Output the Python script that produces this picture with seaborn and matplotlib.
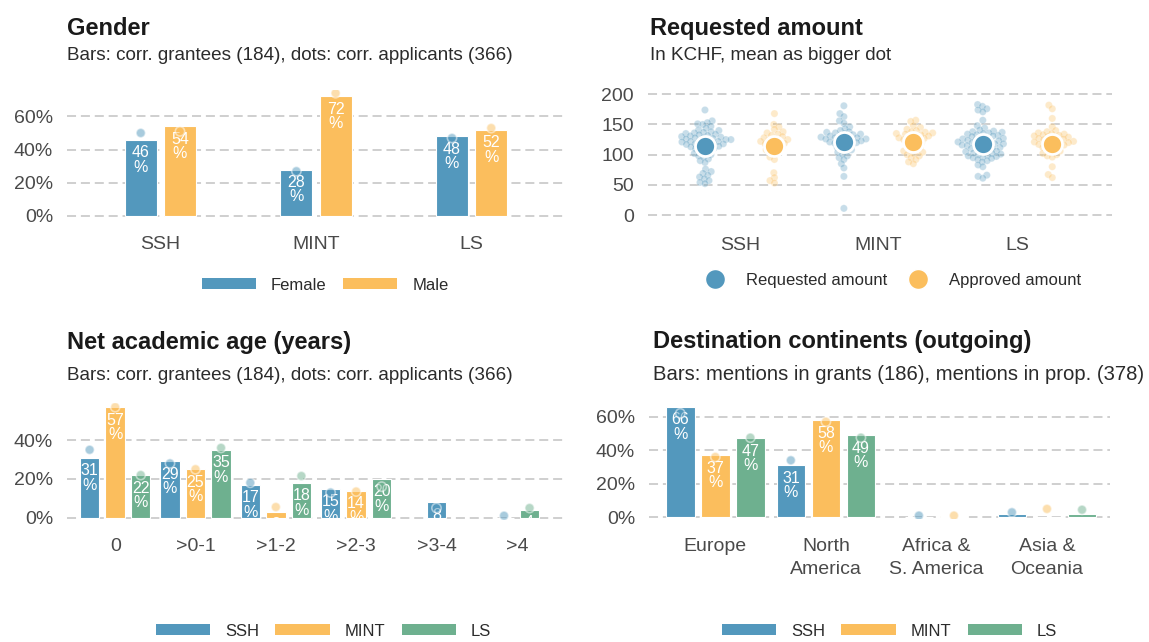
import numpy as np
import pandas as pd
import matplotlib
matplotlib.use("Agg")
import matplotlib.pyplot as plt
import seaborn as sns
from matplotlib.patches import Patch
from matplotlib.lines import Line2D

# ---------------- data ----------------
gender_fields = ["SSH", "MINT", "LS"]
gender_series = ["Female", "Male"]
female_grantees = [46, 28, 48]
male_grantees = [54, 72, 52]
female_applicants = [50, 27, 47]
male_applicants = [51, 74, 53]

amount_fields = ["SSH", "MINT", "LS"]
amount_types = ["Requested amount", "Approved amount"]
ssh_requested = [174, 156, 153, 151, 150, 147, 144, 141, 140, 138, 137, 136, 135, 134, 133,
                 132, 131, 130, 129, 128, 128, 127, 126, 125, 125, 124, 123, 122, 122, 121,
                 120, 119, 118, 118, 117, 116, 115, 114, 113, 112, 111, 110, 108, 106, 104,
                 102, 100, 98, 96, 93, 90, 87, 76, 72, 69, 66, 63, 60, 57, 54, 52]
ssh_approved = [168, 150, 146, 142, 138, 136, 134, 132, 130, 128, 127, 125, 124, 123, 122,
                120, 119, 118, 116, 114, 112, 110, 108, 106, 104, 100, 96, 92, 70, 62, 57, 53]
mint_requested = [181, 168, 163, 156, 152, 146, 143, 140, 138, 137, 136, 135, 134, 133, 132,
                  131, 130, 129, 128, 128, 127, 126, 126, 125, 124, 123, 122, 121, 120, 119,
                  118, 116, 114, 112, 110, 108, 106, 104, 101, 98, 95, 92, 85, 78, 64, 11]
mint_approved = [157, 155, 148, 145, 142, 140, 138, 137, 136, 135, 134, 133, 132, 131, 130,
                 128, 127, 126, 125, 124, 122, 120, 118, 116, 114, 112, 110, 108, 106, 104,
                 102, 100, 98, 95, 92, 88, 85]
ls_requested = [183, 180, 176, 174, 171, 157, 148, 144, 141, 139, 138, 137, 136, 135, 134,
                133, 132, 131, 130, 129, 128, 127, 126, 125, 124, 124, 123, 122, 121, 120,
                119, 118, 118, 117, 116, 115, 114, 113, 112, 111, 110, 109, 108, 106, 105,
                104, 103, 102, 101, 100, 99, 98, 97, 96, 95, 94, 92, 90, 88, 83, 80, 66, 64, 61]
ls_approved = [182, 176, 160, 146, 140, 138, 136, 135, 134, 133, 132, 131, 130, 129, 128,
               127, 126, 125, 124, 123, 122, 121, 120, 119, 118, 117, 116, 115, 114, 112,
               110, 108, 106, 104, 102, 100, 98, 96, 80, 67, 62]
requested_means = [114, 121, 117]
approved_means = [114, 121, 118]

age_groups = ["0", ">0-1", ">1-2", ">2-3", ">3-4", ">4"]
field_series = ["SSH", "MINT", "LS"]
age_ssh_grantees = [31, 29, 17, 15, 8, 0]
age_mint_grantees = [57, 25, 3, 14, None, None]
age_ls_grantees = [22, 35, 18, 20, None, 4]
age_ssh_applicants = [35, 28, 18, 13, 5, 1]
age_mint_applicants = [57, 25, 5.5, 13.5, None, None]
age_ls_applicants = [22, 36, 21.5, 16, None, 5]

continents = ["Europe", "North\nAmerica", "Africa &\nS. America", "Asia &\nOceania"]
dest_ssh_grants = [66, 31, 0, 2]
dest_mint_grants = [37, 58, 1, 0]
dest_ls_grants = [47, 49, None, 2]
dest_ssh_proposals = [62, 34, 1, 3]
dest_mint_proposals = [36, 57, 1, 5]
dest_ls_proposals = [47.5, 47.5, None, 4.5]

# ---------------- style ----------------
BLUE, ORANGE, GREEN = "#5398BD", "#FBBE5D", "#6EB08F"
TITLE_C, SUB_C, TICK_C = "#1a1a1a", "#2b2b2b", "#4a4a4a"

sns.set_theme(style="white")
plt.rcParams["font.family"] = ["Liberation Sans", "DejaVu Sans"]
plt.rcParams["lines.scale_dashes"] = False

W, H = 1149, 642
fig = plt.figure(figsize=(W / 100, H / 100), dpi=100)
fig.patch.set_facecolor("white")


def place(ax, left, right, zero_px, px_per_unit, ylim):
    bottom = zero_px + (0 - ylim[0]) * px_per_unit
    top = zero_px - ylim[1] * px_per_unit
    ax.set_position([left / W, 1 - bottom / H, (right - left) / W, (bottom - top) / H])
    ax.set_ylim(*ylim)


def style_axes(ax):
    for s in ax.spines.values():
        s.set_visible(False)
    ax.set_axisbelow(True)
    ax.yaxis.grid(True, color="#c2c2c2", linestyle=(0, (6.5, 3.5)), linewidth=1.1)
    ax.xaxis.grid(False)
    ax.tick_params(axis="both", length=0, labelcolor=TICK_C, labelsize=14)
    ax.tick_params(axis="y", pad=10)
    ax.tick_params(axis="x", pad=13.5)
    ax.set_xlabel("")
    ax.set_ylabel("")


def dodge_frame(cats, names, bar_lists, dot_lists, slot):
    rows = []
    for i in range(len(cats)):
        present = [k for k in range(len(names)) if bar_lists[k][i] is not None]
        n = len(present)
        for j, k in enumerate(present):
            d = dot_lists[k][i]
            rows.append(dict(pos=i + (j - (n - 1) / 2) * slot, series=names[k],
                             bar=bar_lists[k][i], dot=np.nan if d is None else d))
    return pd.DataFrame(rows)


def bar_panel(ax, cats, names, bar_lists, dot_lists, slot, width, colors):
    df = dodge_frame(cats, names, bar_lists, dot_lists, slot)
    pal = dict(zip(names, colors))
    sns.barplot(data=df, x="pos", y="bar", hue="series", hue_order=names, palette=pal,
                native_scale=True, dodge=False, width=width, errorbar=None, legend=False,
                orient="x", edgecolor="white", linewidth=0.8, saturation=1, ax=ax)
    sns.scatterplot(data=df.dropna(subset=["dot"]), x="pos", y="dot", hue="series",
                    hue_order=names, palette=pal, s=45, alpha=0.5, edgecolor="white",
                    linewidth=1.2, legend=False, zorder=4, ax=ax)
    for p in ax.patches:
        h = p.get_height()
        if h >= 3:
            label = f"{h:.0f}\n%" if h >= 6 else f"{h:.0f}"
            ax.annotate(label, (p.get_x() + p.get_width() / 2, h), xytext=(0, -4),
                        textcoords="offset points", ha="center", va="top", color="white",
                        fontsize=11.5, linespacing=0.95, clip_on=True, zorder=3)
    ax.set_xticks(range(len(cats)))
    ax.set_xticklabels(cats, linespacing=1.45)


def pct(ax, ticks):
    ax.set_yticks(ticks)
    ax.set_yticklabels([f"{t}%" for t in ticks])


def patch_legend(ax, names, colors, cx, cy):
    handles = [Patch(facecolor=c, edgecolor="none") for c in colors]
    ax.legend(handles, names, loc="center", bbox_to_anchor=(cx / W, 1 - cy / H),
              bbox_transform=fig.transFigure, ncol=len(names), frameon=False,
              handlelength=3.25, handleheight=0.6, handletextpad=0.9, columnspacing=1.0,
              fontsize=12, labelcolor=SUB_C)


def titles(x, title_base, sub_base, title, sub, sub_size=13.6):
    fig.text(x / W, 1 - title_base / H, title, fontsize=17, fontweight="bold",
             color=TITLE_C, va="baseline", ha="left")
    fig.text(x / W, 1 - sub_base / H, sub, fontsize=sub_size, color=SUB_C,
             va="baseline", ha="left")


# ---------------- panel 1: Gender ----------------
ax1 = fig.add_axes([0, 0, 1, 1])
bar_panel(ax1, gender_fields, gender_series, [female_grantees, male_grantees],
          [female_applicants, male_applicants], slot=0.252, width=0.813,
          colors=[BLUE, ORANGE])
style_axes(ax1)
pct(ax1, [0, 20, 40, 60])
ax1.set_xlim(-0.6, 2.6)
place(ax1, 67, 565, 216, 1.66, (-1, 76))
patch_legend(ax1, gender_series, [BLUE, ORANGE], 325, 285)
titles(67, 35, 60, "Gender", "Bars: corr. grantees (184), dots: corr. applicants (366)")

# ---------------- panel 2: Requested amount ----------------
ax2 = fig.add_axes([0, 0, 1, 1])
slots = [f"{f} {t}" for f in amount_fields for t in amount_types]
point_lists = [ssh_requested, ssh_approved, mint_requested, mint_approved,
               ls_requested, ls_approved]
pts = pd.DataFrame([dict(slot=s, type=s.split(" ", 1)[1], value=v)
                    for s, vals in zip(slots, point_lists) for v in vals])
means = pd.DataFrame([dict(slot=f"{f} {t}", type=t, value=m)
                      for f, rm, am in zip(amount_fields, requested_means, approved_means)
                      for t, m in zip(amount_types, [rm, am])])
amt_pal = dict(zip(amount_types, [BLUE, ORANGE]))
n0 = len(ax2.collections)
sns.swarmplot(data=pts, x="slot", y="value", hue="type", order=slots, hue_order=amount_types,
              palette=amt_pal, size=3.0, alpha=0.32, edgecolor="white", linewidth=0.5,
              legend=False, warn_thresh=1, ax=ax2)
swarm_cols = ax2.collections[n0:]
sns.stripplot(data=means, x="slot", y="value", hue="type", order=slots, hue_order=amount_types,
              palette=amt_pal, size=14.4, jitter=False, edgecolor="white", linewidth=2,
              legend=False, zorder=5, ax=ax2)
style_axes(ax2)
ax2.set_yticks([0, 50, 100, 150, 200])
ax2.set_xticks([0.5, 2.5, 4.5])
ax2.set_xticklabels(amount_fields)
ax2.set_xlim(-0.82, 5.86)
place(ax2, 648, 1112, 215, 0.6035, (-5, 205))
leg_handles = [Line2D([], [], marker="o", linestyle="", markersize=14.4, markerfacecolor=c,
                      markeredgecolor="white", markeredgewidth=1) for c in [BLUE, ORANGE]]
ax2.legend(leg_handles, amount_types, loc="center", bbox_to_anchor=(892 / W, 1 - 280 / H),
           bbox_transform=fig.transFigure, ncol=2, frameon=False, handlelength=1.5,
           handletextpad=1.1, columnspacing=1.1, fontsize=12, labelcolor=SUB_C)
titles(650, 35, 60, "Requested amount", "In KCHF, mean as bigger dot")

# ---------------- panel 3: Net academic age ----------------
ax3 = fig.add_axes([0, 0, 1, 1])
bar_panel(ax3, age_groups, field_series,
          [age_ssh_grantees, age_mint_grantees, age_ls_grantees],
          [age_ssh_applicants, age_mint_applicants, age_ls_applicants],
          slot=0.318, width=0.764, colors=[BLUE, ORANGE, GREEN])
style_axes(ax3)
pct(ax3, [0, 20, 40])
ax3.set_xlim(-0.6, 5.6)
place(ax3, 67, 565, 517.7, 1.94, (-1, 59))
patch_legend(ax3, field_series, [BLUE, ORANGE, GREEN], 323.5, 631)
titles(67, 349.3, 380, "Net academic age (years)",
       "Bars: corr. grantees (184), dots: corr. applicants (366)")

# ---------------- panel 4: Destination continents ----------------
ax4 = fig.add_axes([0, 0, 1, 1])
bar_panel(ax4, continents, field_series,
          [dest_ssh_grants, dest_mint_grants, dest_ls_grants],
          [dest_ssh_proposals, dest_mint_proposals, dest_ls_proposals],
          slot=0.317, width=0.817, colors=[BLUE, ORANGE, GREEN])
style_axes(ax4)
pct(ax4, [0, 20, 40, 60])
ax4.set_xlim(-0.6, 3.57)
place(ax4, 649, 1110, 517.3, 1.677, (-1, 67))
patch_legend(ax4, field_series, [BLUE, ORANGE, GREEN], 889.5, 631)
titles(653, 348.3, 380, "Destination continents (outgoing)",
       "Bars: mentions in grants (186), mentions in prop. (378)", sub_size=14.6)

# compute the swarm layout once, then enlarge the small dots so they overlap like the original
fig.canvas.draw()
for col in swarm_cols:
    col.__dict__.pop("draw", None)
    col.set_sizes([27])

fig.savefig("out.png", dpi=100, facecolor="white")
